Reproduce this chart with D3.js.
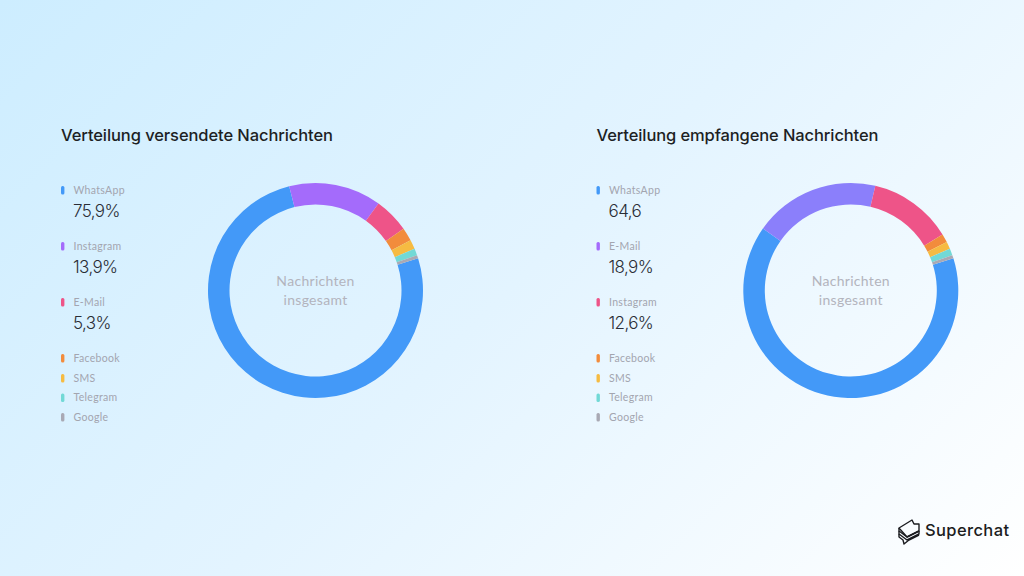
<!DOCTYPE html>
<html><head><meta charset="utf-8">
<script src="https://cdn.jsdelivr.net/npm/d3@7"></script>
<style>html,body{margin:0;padding:0;width:1024px;height:576px;overflow:hidden}svg{display:block}text{font-family:Lato,"Open Sans",sans-serif}</style>
</head><body><svg id="c" width="1024" height="576"></svg>
<script>
const sentTitle = "Verteilung versendete Nachrichten";
const recvTitle = "Verteilung empfangene Nachrichten";
const centerLines = ["Nachrichten", "insgesamt"];
const sentChannels = ["WhatsApp","Instagram","E-Mail","Facebook","SMS","Telegram","Google"];
const sentValues = [75.9,13.9,5.3,2.0,1.4,1.0,0.5];
const sentLabels = ["75,9%","13,9%","5,3%"];
const sentColors = ["#4399f8","#a46bfb","#ee5488","#f28c3c","#f6bb42","#72d9d6","#a9a9b4"];
const sentMarkers = ["#4399f8","#a46bfb","#ee5488","#f28c3c","#f6bb42","#72d9d6","#a9a9b4"];
const recvChannels = ["WhatsApp","E-Mail","Instagram","Facebook","SMS","Telegram","Google"];
const recvValues = [64.6,18.9,12.6,1.3,1.1,1.0,0.5];
const recvLabels = ["64,6","18,9%","12,6%"];
const recvColors = ["#4399f8","#8b7ffb","#ee5488","#f28c3c","#f6bb42","#72d9d6","#a9a9b4"];
const recvMarkers = ["#4399f8","#a46bfb","#ee5488","#f28c3c","#f6bb42","#72d9d6","#a9a9b4"];

const svg = d3.select("#c");
const defs = svg.append("defs");
const g = defs.append("linearGradient").attr("id","bg").attr("gradientUnits","userSpaceOnUse")
  .attr("x1",0).attr("y1",0).attr("x2",800).attr("y2",800);
g.append("stop").attr("offset",0).attr("stop-color","#cdedff");
g.append("stop").attr("offset",0.5).attr("stop-color","#e3f4ff");
g.append("stop").attr("offset",1).attr("stop-color","#ffffff");
svg.append("rect").attr("width",1024).attr("height",576).attr("fill","url(#bg)");

const startDeg = 72.6;
const pie = d3.pie().sort(null).value(d=>d)
  .startAngle(startDeg*Math.PI/180).endAngle((startDeg+360)*Math.PI/180);
const arc = d3.arc().innerRadius(86).outerRadius(107.5);

function panel(x0, cx, title, titleW, names, values, labels, colors, markers){
  svg.append("text").attr("x",x0).attr("y",141).attr("font-size",16.5).attr("font-weight",500)
    .style("font-family","Inter").attr("fill","#1d1f24").attr("textLength",titleW).text(title);
  const ring = svg.append("g").attr("transform",`translate(${cx},290.5)`);
  ring.selectAll("path").data(pie(values)).join("path").attr("d",arc).attr("fill",(d,i)=>colors[i]);
  ring.selectAll("text").data(centerLines).join("text").attr("text-anchor","middle")
    .attr("y",(d,i)=>-4.5+i*19).attr("font-size",14).attr("letter-spacing",0.3).attr("fill","#b3b4bd").text(d=>d);
  const rows = [190,246,302,358,378,397.5,417];
  const leg = svg.append("g");
  names.forEach((n,i)=>{
    leg.append("rect").attr("x",x0).attr("y",rows[i]-4).attr("width",3.4).attr("height",8.5).attr("rx",1.5).attr("fill",markers[i]);
    leg.append("text").attr("x",x0+12.5).attr("y",rows[i]+3.8).attr("font-size",10.5).attr("letter-spacing",0.3).attr("fill","#a3a5af").text(n);
    if(labels[i]) leg.append("text").attr("x",x0+12).attr("y",rows[i]+27).attr("font-size",17).attr("font-weight",300).attr("letter-spacing",-0.6).style("font-family","Inter").attr("fill","#2a2d35").text(labels[i]);
  });
}
panel(61,315.5,sentTitle,272,sentChannels,sentValues,sentLabels,sentColors,sentMarkers);
panel(596.5,850.8,recvTitle,282,recvChannels,recvValues,recvLabels,recvColors,recvMarkers);

const logo = svg.append("g").attr("fill","none").attr("stroke","#1b1c20").attr("stroke-width",1.4).attr("stroke-linejoin","round");
logo.append("path").attr("d","M899 528 L912 520 L914 524 L919 524 L919 531 L907 537 Z");
logo.append("path").attr("d","M899 528 L899 531 L907 537 L919 531");
logo.append("path").attr("d","M899 531 L899 534 L907 540 L919 534 L919 531");
logo.append("path").attr("d","M899 534 L899 537 L903 540 L904 544 L909 540 L919 535");
svg.append("text").attr("x",925).attr("y",536).attr("font-size",16.5).attr("font-weight",500).style("font-family","Inter").attr("textLength",84).attr("fill","#1b1c20").text("Superchat");
</script></body></html>
